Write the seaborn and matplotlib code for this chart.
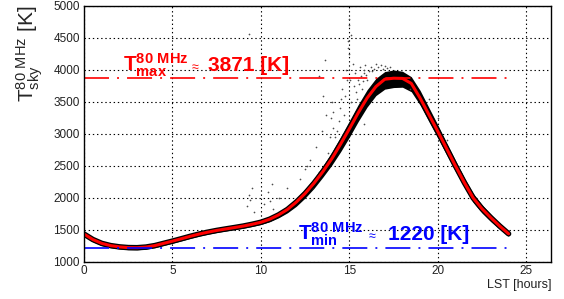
import matplotlib
matplotlib.use("Agg")
import matplotlib.pyplot as plt
import numpy as np
import pandas as pd
import seaborn as sns

# curva media T_sky (rossa)
lst = [0.0, 0.5, 1.0, 1.5, 2.0, 2.5, 3.0, 3.5, 4.0, 4.5, 5.0, 5.5, 6.0, 6.5, 7.0, 7.5,
       8.0, 8.5, 9.0, 9.5, 10.0, 10.5, 11.0, 11.5, 12.0, 12.5, 13.0, 13.5, 14.0, 14.5,
       15.0, 15.5, 16.0, 16.5, 17.0, 17.5, 18.0, 18.5, 19.0, 19.5, 20.0, 20.5, 21.0,
       21.5, 22.0, 22.5, 23.0, 23.5, 24.0]
t_sky = [1435, 1350, 1290, 1255, 1235, 1224, 1222, 1232, 1255, 1290, 1325, 1362, 1400,
         1435, 1465, 1492, 1515, 1537, 1560, 1588, 1620, 1668, 1735, 1820, 1935, 2070,
         2230, 2410, 2610, 2840, 3080, 3330, 3560, 3740, 3855, 3871, 3868, 3790, 3560,
         3300, 3040, 2770, 2500, 2240, 2000, 1830, 1690, 1560, 1440]
# inviluppo delle singole curve (nere)
band_upper = [1470, 1385, 1325, 1288, 1268, 1258, 1255, 1265, 1288, 1322, 1357, 1394,
              1432, 1467, 1497, 1524, 1547, 1570, 1594, 1624, 1658, 1710, 1782, 1875,
              1995, 2140, 2305, 2500, 2715, 2955, 3205, 3460, 3690, 3870, 3975, 4000,
              3980, 3895, 3680, 3410, 3140, 2860, 2585, 2315, 2070, 1895, 1745, 1605, 1480]
band_lower = [1400, 1315, 1255, 1222, 1203, 1192, 1190, 1200, 1223, 1258, 1293, 1330,
              1368, 1403, 1433, 1460, 1483, 1505, 1527, 1554, 1585, 1628, 1690, 1768,
              1870, 2000, 2150, 2325, 2510, 2720, 2950, 3195, 3420, 3600, 3700, 3725,
              3730, 3660, 3450, 3190, 2935, 2675, 2415, 2165, 1930, 1765, 1630, 1510, 1400]
# punti sparsi (misure anomale)
sparsi_lst = [9.2, 9.3, 9.4, 9.5, 9.6, 10.4, 10.5, 10.6, 10.7, 11.0, 12.2, 12.5, 12.8,
              12.9, 13.1, 13.3, 13.3, 13.5, 13.6, 13.7, 13.9, 14.0, 14.1, 14.6, 14.7,
              14.8, 14.9, 15.0, 15.0, 15.05, 15.1, 15.1, 15.2, 15.25, 15.3, 15.35, 15.4,
              15.5, 15.6, 15.7, 15.8, 15.9, 16.0, 16.2, 16.3, 16.5, 16.8, 17.0, 17.3,
              14.2, 14.4, 13.8, 15.8, 18.4, 19.5, 20.0, 20.5, 9.3, 15.0, 14.95,
              15.45, 15.55, 15.65, 15.75, 15.85, 15.95, 16.1, 16.4, 16.6, 16.9, 17.1,
              14.3, 14.45, 14.55, 14.75, 14.85, 13.95, 14.05, 13.45, 12.6, 11.5, 10.2]
sparsi_t = [1880, 2050, 1960, 2150, 1780, 2100, 1950, 2220, 1830, 2000, 2300, 2450, 2600,
            2150, 2800, 2400, 3900, 3600, 4150, 3300, 2950, 3500, 3100, 3700, 3300, 4000,
            4450, 4700, 4250, 3850, 4550, 3500, 4100, 3750, 3950, 3300, 3650, 3850, 4050,
            3700, 3950, 4080, 3850, 4050, 3980, 4100, 4080, 4060, 4050, 2950, 3200, 2700,
            3150, 3700, 3550, 3250, 2900, 4560, 4800, 4350,
            3550, 3780, 3900, 3820, 4000, 3920, 3990, 4020, 4040, 4010, 4030,
            3050, 3400, 3550, 3600, 3850, 3250, 3350, 3050, 2500, 2150, 1900]

t_max = 3871
t_min = 1220

sns.set_style("white")
plt.rcParams["font.family"] = ["Liberation Sans", "DejaVu Sans"]
plt.rcParams["mathtext.fontset"] = "custom"
plt.rcParams["mathtext.rm"] = "Liberation Sans"
plt.rcParams["mathtext.bf"] = "Liberation Sans:bold"
plt.rcParams["mathtext.default"] = "regular"
plt.rcParams["lines.scale_dashes"] = False

df = pd.DataFrame({"lst": lst, "t": t_sky})
df_sp = pd.DataFrame({"lst": sparsi_lst, "t": sparsi_t})

fig = plt.figure(figsize=(5.64, 2.99), dpi=100)
ax = fig.add_axes([0.149, 0.124, 0.828, 0.856])

ax.fill_between(lst, band_lower, band_upper, color="black", lw=0)
sns.lineplot(data=df, x="lst", y="t", color="black", lw=4, ax=ax)
sns.scatterplot(data=df_sp, x="lst", y="t", color="0.3", s=1.5, linewidth=0, ax=ax)
sns.lineplot(data=df, x="lst", y="t", color="red", lw=2.2, ax=ax)

ax.plot([0, 24], [t_max, t_max], color="red", lw=1.2, dashes=(18, 5.8, 1.4, 5.8))
ax.plot([0, 24], [t_min, t_min], color="blue", lw=1.2, dashes=(18, 5.8, 1.4, 5.8))

ax.text(2.2, 3985, r"T$^{\mathbf{80\ MHz}}_{\mathbf{max}}$", color="red",
        fontsize=15, fontweight="bold", va="baseline")
ax.text(6.1, 3985, "\u2248", color="red", fontsize=9, va="baseline")
ax.text(7.0, 3985, "3871 [K]", color="red", fontsize=15, fontweight="bold",
        va="baseline")
ax.text(12.1, 1335, r"T$^{\mathbf{80\ MHz}}_{\mathbf{min}}$", color="blue",
        fontsize=15, fontweight="bold", va="baseline")
ax.text(16.1, 1335, "\u2248", color="blue", fontsize=9, va="baseline")
ax.text(17.2, 1335, "1220 [K]", color="blue", fontsize=15, fontweight="bold",
        va="baseline")

ax.set_xlim(0, 26.4)
ax.set_ylim(1000, 5000)
ax.set_xticks([0, 5, 10, 15, 20, 25])
ax.set_yticks(range(1000, 5001, 500))
ax.set_xticks(range(0, 27), minor=True)
ax.set_yticks(range(1000, 5001, 100), minor=True)
ax.tick_params(axis="both", which="both", direction="in", labelsize=8.5,
               labelcolor="#222222", width=1.1, color="black")
ax.tick_params(axis="y", which="major", length=11, pad=3)
ax.tick_params(axis="y", which="minor", length=5.8)
ax.tick_params(axis="x", which="major", length=6.5, pad=2)
ax.tick_params(axis="x", which="minor", length=3)
ax.grid(True, which="major", color="black", lw=0.8, linestyle=(0, (1, 2)))

for sp in ax.spines.values():
    sp.set_color("black")
    sp.set_linewidth(1.0)

ax.set_ylabel(r"T$^{80\ MHz}_{sky}$ [K]", fontsize=15, loc="top", labelpad=6)
ax.set_xlabel("LST [hours]", fontsize=9, loc="right", labelpad=2, color="#222222")

plt.savefig("out.png", dpi=100)
